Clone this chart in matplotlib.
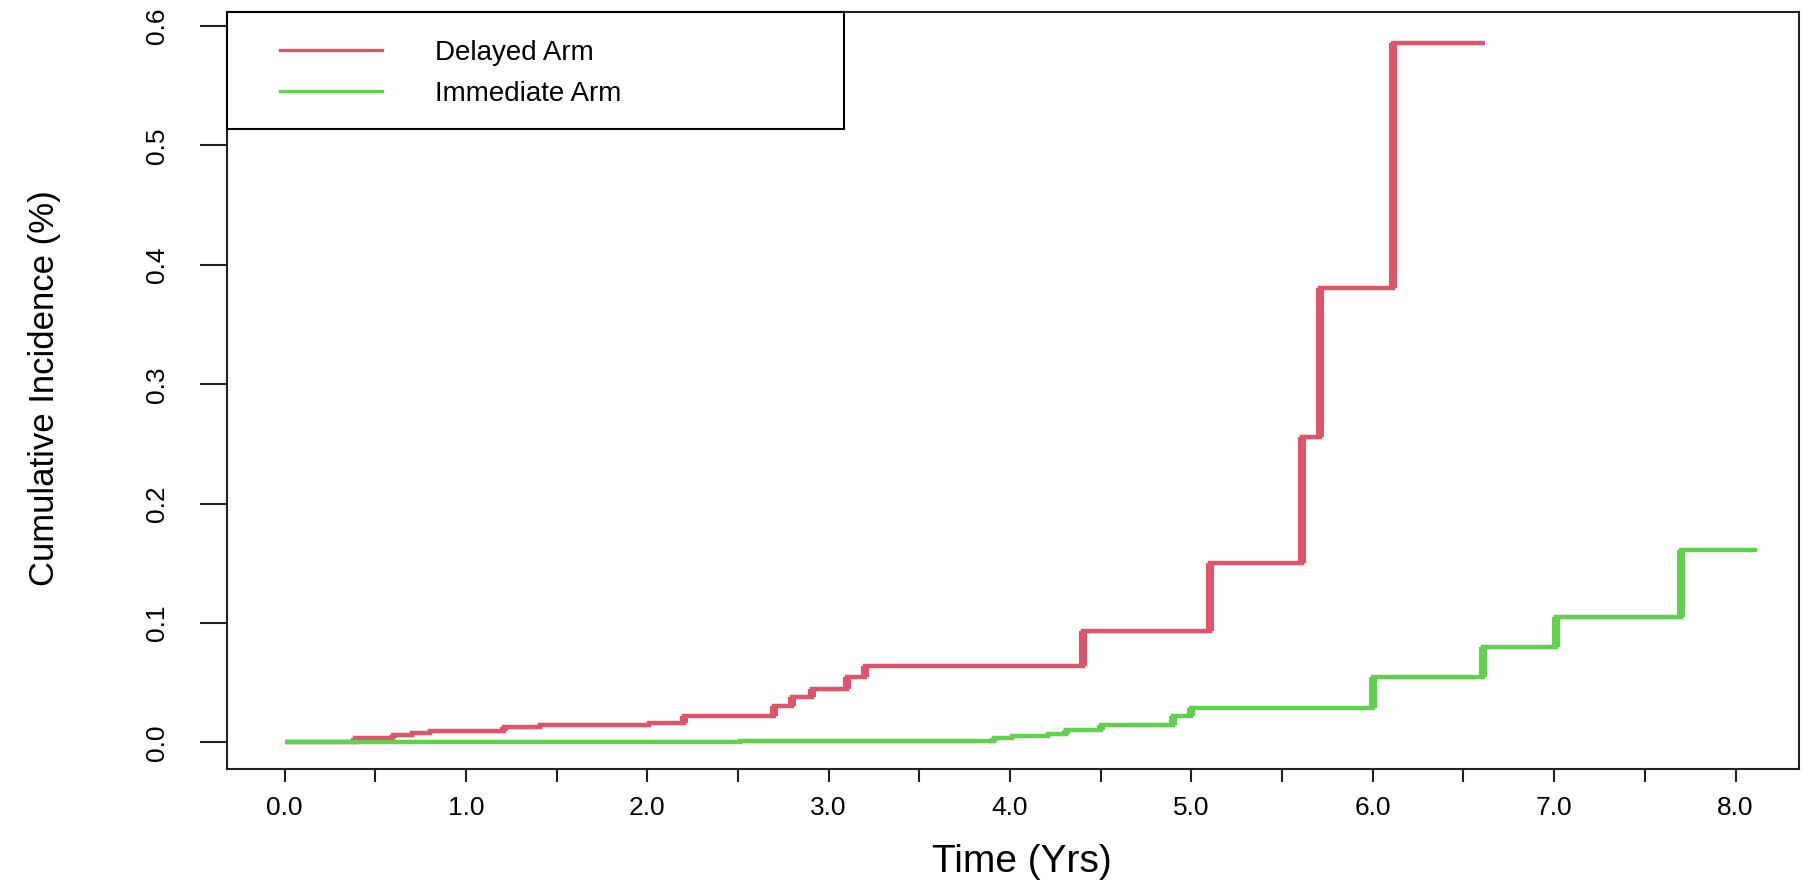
import matplotlib
matplotlib.use("Agg")
import matplotlib.pyplot as plt
from matplotlib.patches import Rectangle
from matplotlib.lines import Line2D
import numpy as np

plt.rcParams['font.family'] = ['Liberation Sans', 'DejaVu Sans']

# ---- data ----
delayed_times = [0.0, 0.39, 0.60, 0.70, 0.80, 1.21, 1.41, 2.01, 2.20, 2.70, 2.80, 2.91, 3.10, 3.20, 4.40, 5.10, 5.61, 5.71, 6.11]
delayed_vals = [0.0, 0.0034, 0.0061, 0.0081, 0.0095, 0.0128, 0.0145, 0.0162, 0.0223, 0.0305, 0.0377, 0.0452, 0.0548, 0.064, 0.093, 0.150, 0.256, 0.381, 0.586]
delayed_end = 6.62

immediate_times = [0.0, 2.51, 3.91, 4.01, 4.21, 4.31, 4.50, 4.90, 5.00, 6.00, 6.61, 7.01, 7.70]
immediate_vals = [0.0, 0.0014, 0.004, 0.0053, 0.0073, 0.0106, 0.0145, 0.0224, 0.029, 0.0545, 0.080, 0.105, 0.161]
immediate_end = 8.12

series_labels = ["Delayed Arm", "Immediate Arm"]
colors = ["#DF536B", "#61D04F"]

x_ticks = np.arange(0, 8.01, 0.5)
x_ticklabels = [f"{t:.1f}" if abs(t - round(t)) < 1e-9 else "" for t in x_ticks]
y_ticks = [0.0, 0.1, 0.2, 0.3, 0.4, 0.5, 0.6]
y_ticklabels = ["0.0", "0.1", "0.2", "0.3", "0.4", "0.5", "0.6"]

W, H = 1803, 886
fig = plt.figure(figsize=(W / 100, H / 100), dpi=100)
ax_l, ax_r, ax_t, ax_b = 226.5, 1799.0, 12.0, 769.0
ax = fig.add_axes([ax_l / W, 1 - ax_b / H, (ax_r - ax_l) / W, (ax_b - ax_t) / H])

def draw(times, vals, end, color):
    xs = list(times) + [end]
    ys = list(vals) + [vals[-1]]
    ax.step(xs, ys, where='post', color=color, lw=3.2, solid_capstyle='butt',
            solid_joinstyle='miter', zorder=3)
    ax.vlines(times[1:], vals[:-1], vals[1:], color=color, lw=5.8,
              capstyle='butt', zorder=3)

draw(delayed_times, delayed_vals, delayed_end, colors[0])
draw(immediate_times, immediate_vals, immediate_end, colors[1])

ax.set_xlim(-0.32, 8.35)
ax.set_ylim(-0.0222, 0.6118)

ax.set_xticks(x_ticks)
ax.set_xticklabels(x_ticklabels)
ax.set_yticks(y_ticks)
ax.set_yticklabels(y_ticklabels, rotation=90, va='center')

ax.tick_params(axis='x', length=9.5, width=1.5, pad=10, labelsize=19, color='#222222')
ax.tick_params(axis='y', length=19.5, width=1.5, pad=22, labelsize=19, color='#222222')
for s in ax.spines.values():
    s.set_linewidth(1.5)
    s.set_color('#222222')

ax.set_xlabel("Time (Yrs)", fontsize=28)
ax.xaxis.set_label_coords((1022 - ax_l) / (ax_r - ax_l), (ax_b - 862) / (ax_b - ax_t))
ax.xaxis.label.set_va('center')
ax.set_ylabel("Cumulative Incidence (%)", fontsize=25)
ax.yaxis.set_label_coords((45 - ax_l) / (ax_r - ax_l), (ax_b - 388) / (ax_b - ax_t))
ax.yaxis.label.set_va('center')
ax.yaxis.label.set_ha('center')

# legend box
box_w = (844 - ax_l) / (ax_r - ax_l)
box_h = (129 - ax_t) / (ax_b - ax_t)
ax.add_patch(Rectangle((0, 1 - box_h), box_w, box_h, transform=ax.transAxes,
                       fill=True, facecolor='white', edgecolor='black', lw=1.5,
                       zorder=4, clip_on=False))
leg_fs = 20
fs_px = leg_fs * 100 / 72
handles = [Line2D([], [], color=c, lw=2.4) for c in colors]
leg = ax.legend(handles, series_labels, loc='upper left',
                bbox_to_anchor=((279.6 - ax_l) / (ax_r - ax_l), 1 - (39.5 - ax_t) / (ax_b - ax_t)),
                frameon=False, fontsize=leg_fs, borderpad=0, borderaxespad=0,
                handlelength=102 / fs_px, handletextpad=53 / fs_px, labelspacing=0.55)
leg.set_zorder(5)

fig.savefig("out.png", dpi=100, facecolor='white')
